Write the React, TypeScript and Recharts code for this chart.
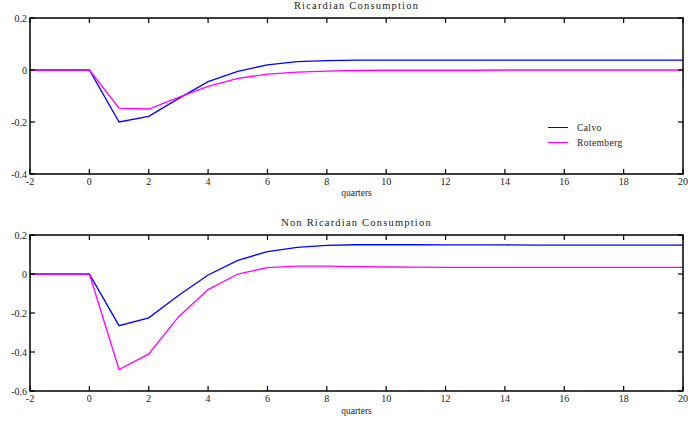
import { Line, LineChart, XAxis, YAxis } from "recharts";

const quarters = [-2, -1, 0, 1, 2, 3, 4, 5, 6, 7, 8, 9, 10, 11, 12, 13, 14, 15, 16, 17, 18, 19, 20];
const xTicks = [-2, 0, 2, 4, 6, 8, 10, 12, 14, 16, 18, 20];

const ricCalvo = [0, 0, 0, -0.2, -0.178, -0.11, -0.045, -0.005, 0.02, 0.032, 0.036, 0.038, 0.038, 0.038, 0.038, 0.038, 0.038, 0.038, 0.038, 0.038, 0.038, 0.038, 0.038];
const ricRotemberg = [0, 0, 0, -0.147, -0.15, -0.105, -0.063, -0.032, -0.016, -0.008, -0.004, -0.002, -0.001, -0.001, -0.001, -0.001, 0, 0, 0, 0, 0, 0, 0];
const ricTicks = [-0.4, -0.2, 0, 0.2];

const nonCalvo = [0, 0, 0, -0.265, -0.225, -0.11, -0.005, 0.07, 0.115, 0.137, 0.147, 0.15, 0.15, 0.15, 0.149, 0.149, 0.149, 0.148, 0.148, 0.148, 0.148, 0.148, 0.148];
const nonRotemberg = [0, 0, 0, -0.49, -0.41, -0.22, -0.08, 0, 0.033, 0.04, 0.04, 0.038, 0.036, 0.035, 0.034, 0.034, 0.034, 0.034, 0.034, 0.034, 0.034, 0.034, 0.034];
const nonTicks = [-0.6, -0.4, -0.2, 0, 0.2];

const seriesNames = ["Calvo", "Rotemberg"];
const seriesColors = ["#0000ff", "#ff00ff"];

const ricData = quarters.map((q, i) => ({ q, calvo: ricCalvo[i], rotemberg: ricRotemberg[i] }));
const nonData = quarters.map((q, i) => ({ q, calvo: nonCalvo[i], rotemberg: nonRotemberg[i] }));

const font = "Liberation Serif, Times New Roman, serif";
const textColor = "#222";
const PLOT_LEFT = 30;
const PLOT_RIGHT = 683;
const TICK_LEN = 5;
const frameColor = "#000000";

type PanelProps = {
  data: { q: number; calvo: number; rotemberg: number }[];
  yTicks: number[];
  height: number;
  top: number;
  marginTop: number;
  axisHeight: number;
  title: string;
  titleTop: number;
  labelTop: number;
  legend?: boolean;
};

function Panel({ data, yTicks, height, top, marginTop, axisHeight, title, titleTop, labelTop, legend }: PanelProps) {
  const domain: [number, number] = [yTicks[0], yTicks[yTicks.length - 1]];
  const plotTop = marginTop;
  const plotBottom = height - axisHeight;

  // ticks point inward on all four sides; the first tick also draws the box
  const xTick = (props: any) => {
    const { x, y, payload, index } = props;
    return (
      <g>
        {index === 0 ? (
          <rect x={PLOT_LEFT} y={plotTop} width={PLOT_RIGHT - PLOT_LEFT} height={plotBottom - plotTop} fill="none" stroke={frameColor} strokeWidth={1.5} />
        ) : null}
        <line x1={x} x2={x} y1={plotBottom} y2={plotBottom - TICK_LEN} stroke={frameColor} strokeWidth={1.2} />
        <line x1={x} x2={x} y1={plotTop} y2={plotTop + TICK_LEN} stroke={frameColor} strokeWidth={1.2} />
        <text x={x} y={y} dy="0.71em" textAnchor="middle" fontSize={10} fontFamily={font} fill={textColor}>
          {payload.value}
        </text>
      </g>
    );
  };

  const yTick = (props: any) => {
    const { x, y, payload } = props;
    return (
      <g>
        <line x1={PLOT_LEFT} x2={PLOT_LEFT + TICK_LEN} y1={y} y2={y} stroke={frameColor} strokeWidth={1.2} />
        <line x1={PLOT_RIGHT - TICK_LEN} x2={PLOT_RIGHT} y1={y} y2={y} stroke={frameColor} strokeWidth={1.2} />
        <text x={x} y={y} dy="0.35em" textAnchor="end" fontSize={10} fontFamily={font} fill={textColor}>
          {payload.value}
        </text>
      </g>
    );
  };

  return (
    <div style={{ position: "absolute", left: 0, top, width: 688, height }}>
      <div style={{ position: "absolute", left: PLOT_LEFT, width: PLOT_RIGHT - PLOT_LEFT, top: titleTop, textAlign: "center", fontFamily: font, fontSize: 10.5, letterSpacing: 1.2, color: textColor, lineHeight: "12px" }}>
        {title}
      </div>
      <div style={{ position: "absolute", left: PLOT_LEFT, width: PLOT_RIGHT - PLOT_LEFT, top: labelTop, textAlign: "center", fontFamily: font, fontSize: 9.5, color: textColor, lineHeight: "11px" }}>
        quarters
      </div>
      {legend ? (
        <div style={{ position: "absolute", left: 548, top: 120, fontFamily: font, fontSize: 9.5, color: textColor, letterSpacing: 0.4, zIndex: 2 }}>
          {seriesNames.map((name, i) => (
            <div key={name} style={{ display: "flex", alignItems: "center", height: 15 }}>
              <div style={{ width: 20, height: 1.3, background: seriesColors[i], marginRight: 9 }} />
              <span>{name}</span>
            </div>
          ))}
        </div>
      ) : null}
      <LineChart width={688} height={height} data={data} margin={{ top: marginTop, right: 688 - PLOT_RIGHT, left: 0, bottom: 0 }}>
        <XAxis
          dataKey="q"
          type="number"
          domain={[-2, 20]}
          ticks={xTicks}
          height={axisHeight}
          tickSize={0}
          tickMargin={4}
          tickLine={false}
          tick={xTick}
          axisLine={false}
          interval={0}
        />
        <YAxis
          type="number"
          domain={domain}
          ticks={yTicks}
          width={PLOT_LEFT}
          tickSize={0}
          tickMargin={3}
          tickLine={false}
          tick={yTick}
          axisLine={false}
          interval={0}
        />
        <Line dataKey="calvo" name={seriesNames[0]} stroke={seriesColors[0]} strokeWidth={1.3} dot={false} type="linear" isAnimationActive={false} />
        <Line dataKey="rotemberg" name={seriesNames[1]} stroke={seriesColors[1]} strokeWidth={1.3} dot={false} type="linear" isAnimationActive={false} />
      </LineChart>
    </div>
  );
}

export default function App() {
  return (
    <div style={{ position: "absolute", left: 0, top: 0, width: 688, height: 422, background: "#fff" }}>
      <Panel data={ricData} yTicks={ricTicks} height={200} top={0} marginTop={18} axisHeight={26} title="Ricardian Consumption" titleTop={0} labelTop={188} legend />
      <Panel data={nonData} yTicks={nonTicks} height={212} top={210} marginTop={25} axisHeight={31} title="Non Ricardian Consumption" titleTop={7} labelTop={196} />
    </div>
  );
}
